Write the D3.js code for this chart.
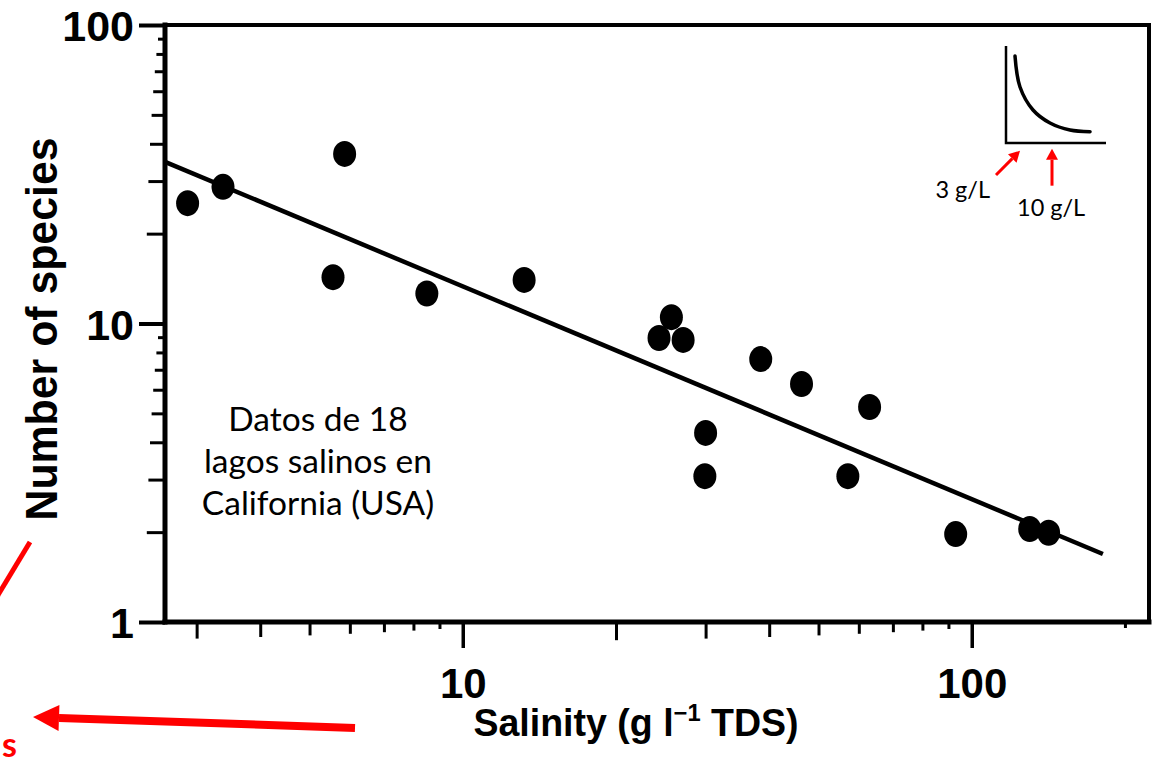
<!DOCTYPE html>
<html>
<head>
<meta charset="utf-8">
<script src="https://cdn.jsdelivr.net/npm/d3@7"></script>
<style>
  html, body { margin: 0; padding: 0; background: #fff; }
  svg { display: block; }
</style>
</head>
<body>
<svg id="chart" width="1162" height="765"></svg>
<script>
// ---------- data ----------
const salinity = [2.88, 3.38, 5.86, 5.56, 8.5, 13.2, 25.7, 24.3, 27.1, 38.5, 46.3, 63.0, 30.0, 29.9, 57.1, 93.0, 130, 141.6];
const species  = [25.3, 28.7, 37.0, 14.3, 12.6, 14.0, 10.5, 8.94, 8.81, 7.6, 6.27, 5.25, 4.3, 3.08, 3.08, 1.97, 2.05, 1.99];
const fitSalinity = [2.6, 181];
const fitSpecies  = [34.8, 1.69];
const xMajorTicks = [10, 100];
const xMinorTicks = [3, 4, 5, 6, 7, 8, 9, 20, 30, 40, 50, 60, 70, 80, 90, 200];
const yMajorTicks = [1, 10, 100];
const yMinorTicks = [2, 3, 4, 5, 6, 7, 8, 9, 20, 30, 40, 50, 60, 70, 80, 90];
const noteLines = ["Datos de 18", "lagos salinos en", "California (USA)"];
// inset sketch (abstract units)
const insetCurveX = [0.9, 1.4, 2.7, 4.4, 6.4, 8.4];
const insetCurveY = [8.97, 5.77, 3.4, 2.06, 1.34, 1.17];
const insetLabels = ["3 g/L", "10 g/L"];

// ---------- layout ----------
const L = 165, R = 1149, T = 25, B = 622;
const svg = d3.select("#chart");
const x = d3.scaleLog().domain([2.6, 223]).range([L, R]);
const y = d3.scaleLog().domain([1, 100]).range([B, T]);

const lead = v => v / Math.pow(10, Math.floor(Math.log10(v) + 1e-9));
const tickLen = v => xMajorTicks.includes(v) || yMajorTicks.includes(v) ? 26 : (v === 200 ? 6 : 7 + (9 - Math.round(lead(v))) * 1.6);
const axisFont = "'Liberation Sans', Arial, sans-serif";

// ---------- axes ----------
const xAxis = d3.axisBottom(x)
  .tickValues(xMajorTicks.concat(xMinorTicks))
  .tickSize(0).tickPadding(0)
  .tickFormat(d => xMajorTicks.includes(d) ? String(d) : "");
const gx = svg.append("g").attr("transform", `translate(0,${B})`).call(xAxis);
gx.select(".domain").remove();
gx.selectAll(".tick line")
  .attr("y2", d => tickLen(d)).attr("stroke", "#000")
  .attr("stroke-width", d => xMajorTicks.includes(d) ? 3.5 : 3);
gx.selectAll(".tick text")
  .attr("y", 76).attr("dy", null)
  .attr("font-family", axisFont)
  .attr("font-weight", "bold").attr("font-size", 42).attr("fill", "#000");

const yAxis = d3.axisLeft(y)
  .tickValues(yMajorTicks.concat(yMinorTicks))
  .tickSize(0).tickPadding(0)
  .tickFormat(d => yMajorTicks.includes(d) ? String(d) : "");
const gy = svg.append("g").attr("transform", `translate(${L},0)`).call(yAxis);
gy.select(".domain").remove();
gy.selectAll(".tick line")
  .attr("x2", d => -tickLen(d)).attr("stroke", "#000")
  .attr("stroke-width", d => yMajorTicks.includes(d) ? 4 : 3);
gy.selectAll(".tick text")
  .attr("x", -31).attr("dy", "0.37em")
  .attr("font-family", axisFont)
  .attr("font-weight", "bold").attr("font-size", 43).attr("fill", "#000");

// frame
const frame = svg.append("g").attr("stroke", "#000").attr("stroke-linecap", "square");
frame.append("line").attr("x1", x.range()[0]).attr("x2", x.range()[1]).attr("y1", y(1)).attr("y2", y(1)).attr("stroke-width", 5);
frame.append("line").attr("x1", x.range()[0]).attr("x2", x.range()[1]).attr("y1", y(100)).attr("y2", y(100)).attr("stroke-width", 4);
frame.append("line").attr("x1", x.range()[0]).attr("x2", x.range()[0]).attr("y1", y(1)).attr("y2", y(100)).attr("stroke-width", 5);
frame.append("line").attr("x1", x.range()[1]).attr("x2", x.range()[1]).attr("y1", y(1)).attr("y2", y(100)).attr("stroke-width", 4);

// axis titles
svg.append("text")
  .attr("x", 636).attr("y", 736).attr("text-anchor", "middle")
  .attr("font-family", axisFont).attr("font-weight", "bold")
  .attr("font-size", 38).attr("fill", "#000")
  .attr("textLength", 325).attr("lengthAdjust", "spacingAndGlyphs")
  .call(t => {
    t.append("tspan").text("Salinity (g l");
    t.append("tspan").attr("font-size", 24).attr("dy", -15).text("\u22121");
    t.append("tspan").attr("dy", 15).text(" TDS)");
  });
svg.append("text")
  .attr("transform", "translate(57,329) rotate(-90)").attr("text-anchor", "middle")
  .attr("font-family", axisFont).attr("font-weight", "bold")
  .attr("font-size", 44).attr("fill", "#000")
  .attr("textLength", 383).attr("lengthAdjust", "spacingAndGlyphs")
  .text("Number of species");

// regression line
const line = d3.line().x(d => x(d[0])).y(d => y(d[1]));
svg.append("path")
  .datum(fitSalinity.map((s, i) => [s, fitSpecies[i]]))
  .attr("d", line).attr("fill", "none").attr("stroke", "#000").attr("stroke-width", 4.5);

// points
svg.append("g").selectAll("ellipse")
  .data(salinity.map((s, i) => [s, species[i]]))
  .join("ellipse")
  .attr("cx", d => x(d[0])).attr("cy", d => y(d[1]))
  .attr("rx", 11.5).attr("ry", 13).attr("fill", "#000");

// note
svg.append("g").selectAll("text").data(noteLines).join("text")
  .attr("x", 318).attr("y", (d, i) => 431 + i * 42).attr("text-anchor", "middle")
  .attr("font-family", "Lato, 'Open Sans', sans-serif").attr("font-size", 33.5).attr("fill", "#000")
  .text(d => d);

// ---------- inset sketch ----------
const ix = d3.scaleLinear().domain([0, 10]).range([1006, 1106]);
const iy = d3.scaleLinear().domain([0, 10]).range([143, 46]);
const inset = svg.append("g");
inset.append("path")
  .attr("d", d3.line()([[ix(0), iy(10)], [ix(0), iy(0)], [ix(10), iy(0)]]))
  .attr("fill", "none").attr("stroke", "#000").attr("stroke-width", 2.5);
inset.append("path")
  .datum(insetCurveX.map((v, i) => [v, insetCurveY[i]]))
  .attr("d", d3.line().x(d => ix(d[0])).y(d => iy(d[1])).curve(d3.curveCatmullRom))
  .attr("fill", "none").attr("stroke", "#000").attr("stroke-width", 3.5).attr("stroke-linecap", "round");

const red = "#ff0000";
function arrow(g, x1, y1, x2, y2, w, headL, headW) {
  const a = Math.atan2(y2 - y1, x2 - x1);
  const bx = x2 - headL * Math.cos(a), by = y2 - headL * Math.sin(a);
  g.append("line").attr("x1", x1).attr("y1", y1).attr("x2", bx).attr("y2", by)
    .attr("stroke", red).attr("stroke-width", w);
  const px = -Math.sin(a), py = Math.cos(a);
  g.append("path")
    .attr("d", `M${x2},${y2}L${bx + px * headW},${by + py * headW}L${bx - px * headW},${by - py * headW}Z`)
    .attr("fill", red);
}
arrow(inset, ix(-1.0), iy(-3.3), ix(1.4), iy(-0.8), 3, 11, 6);
arrow(inset, ix(4.6), iy(-4.4), ix(4.6), iy(-0.6), 3, 11, 6);
inset.append("text").attr("x", 990).attr("y", 198).attr("text-anchor", "end")
  .attr("font-family", "Lato, 'Open Sans', sans-serif").attr("font-size", 23.5).attr("fill", "#000")
  .text(insetLabels[0]);
inset.append("text").attr("x", 1017).attr("y", 216)
  .attr("font-family", "Lato, 'Open Sans', sans-serif").attr("font-size", 23.5).attr("fill", "#000")
  .text(insetLabels[1]);

// ---------- red annotation fragments ----------
const ann = svg.append("g");
ann.append("line").attr("x1", -5).attr("y1", 600).attr("x2", 30).attr("y2", 542)
  .attr("stroke", red).attr("stroke-width", 5);
arrow(ann, 355, 728, 33, 717, 8, 26, 13);
ann.append("text").attr("x", 2).attr("y", 757)
  .attr("font-family", "Lato, sans-serif").attr("font-weight", "bold").attr("font-size", 34).attr("fill", red)
  .text("s");
</script>
</body>
</html>
